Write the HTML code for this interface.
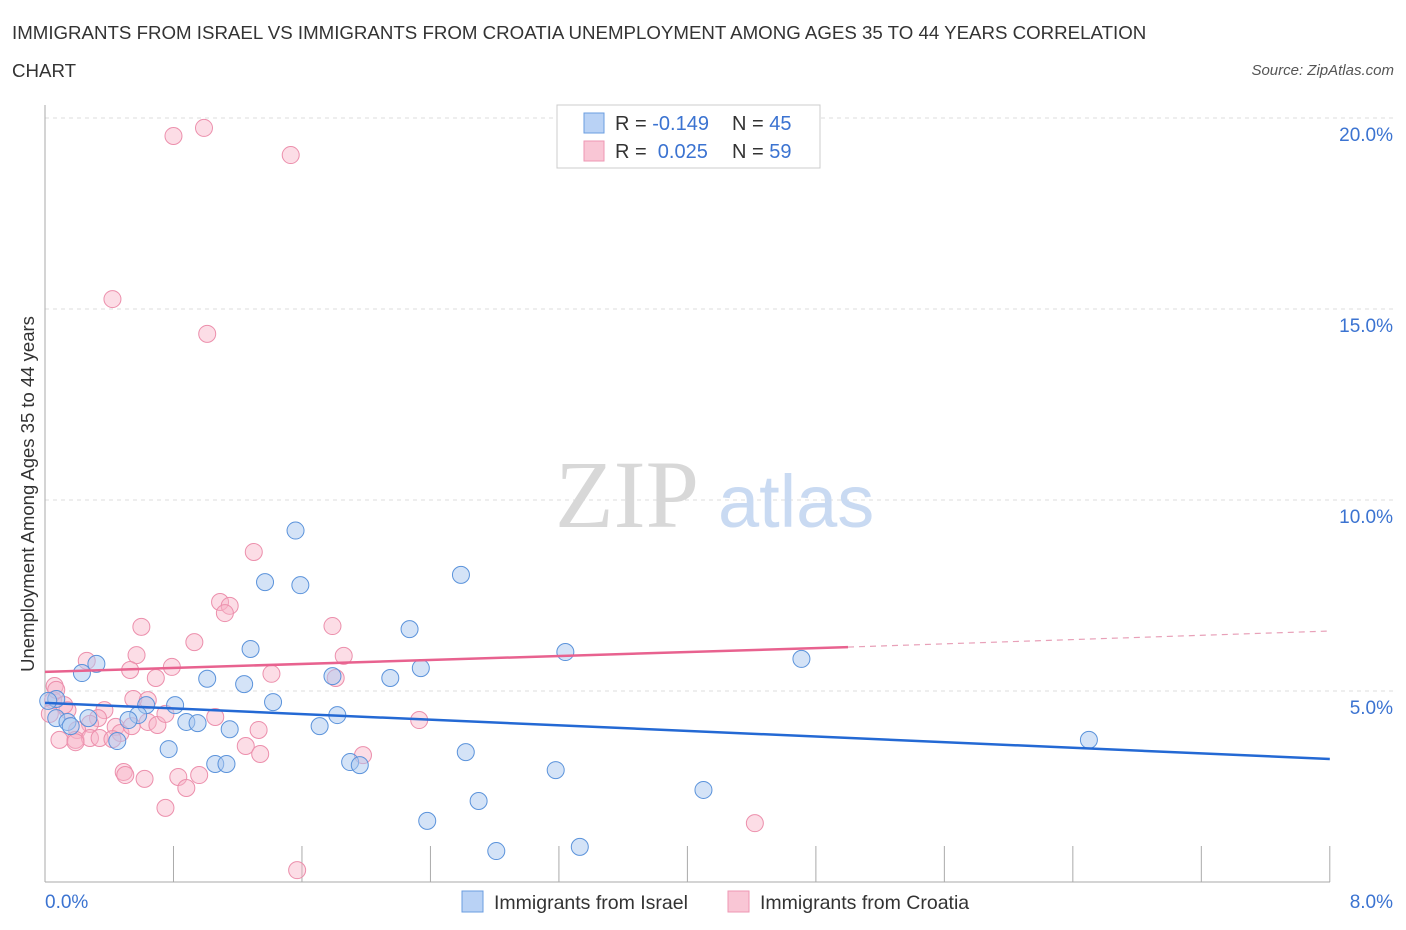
<!DOCTYPE html>
<html><head><meta charset="utf-8"><style>
body{margin:0;background:#fff;font-family:"Liberation Sans",sans-serif;}
#wrap{position:relative;width:1406px;height:930px;overflow:hidden}
.t{position:absolute;color:#333;font-size:18.7px}
</style></head><body>
<div id="wrap">
<div class="t" style="left:12px;top:22px">IMMIGRANTS FROM ISRAEL VS IMMIGRANTS FROM CROATIA UNEMPLOYMENT AMONG AGES 35 TO 44 YEARS CORRELATION</div>
<div class="t" style="left:12px;top:60px">CHART</div>
<div class="t" style="right:12px;top:62px;font-size:15px;font-style:italic;color:#555">Source: ZipAtlas.com</div>
<svg id="svg" width="1406" height="930" style="position:absolute;left:0;top:0"></svg>
</div>
<script>
const blueX=[1.56,1.37,1.59,2.59,2.27,1.28,3.24,4.71,2.34,0.32,0.23,1.01,1.24,2.15,1.79,1.42,0.81,0.63,0.07,0.02,0.58,0.52,0.88,0.95,1.82,1.71,1.15,0.45,0.77,0.07,0.14,0.16,0.27,2.62,1.90,1.96,1.06,1.13,3.18,6.50,4.10,2.70,2.38,2.81,3.33];
const blueY=[9.2,7.85,7.77,8.04,6.62,6.1,6.02,5.84,5.6,5.71,5.47,5.32,5.18,5.34,5.39,4.71,4.63,4.63,4.79,4.74,4.37,4.24,4.19,4.16,4.37,4.08,4.0,3.69,3.48,4.29,4.19,4.08,4.29,3.40,3.14,3.06,3.09,3.09,2.93,3.72,2.41,2.12,1.60,0.81,0.92];
const pinkX=[0.80,0.99,1.53,0.42,1.01,1.30,1.09,1.15,1.12,1.79,0.60,0.93,1.86,0.57,0.26,0.53,0.79,0.69,1.41,1.81,0.06,0.05,0.55,0.64,0.37,2.33,0.64,1.06,0.33,0.14,0.28,0.03,1.33,0.20,0.44,0.09,0.19,0.28,0.34,0.47,0.70,0.75,0.49,0.50,0.62,0.83,0.96,0.88,1.25,1.34,1.98,0.75,4.42,1.57,0.07,0.12,0.19,0.54,0.42];
const pinkY=[19.53,19.74,19.03,15.26,14.35,8.64,7.33,7.23,7.04,6.70,6.68,6.28,5.92,5.94,5.79,5.55,5.63,5.34,5.45,5.34,5.13,4.76,4.79,4.76,4.50,4.24,4.19,4.32,4.29,4.50,4.14,4.40,3.98,3.98,4.06,3.72,3.72,3.77,3.77,3.90,4.11,4.40,2.88,2.80,2.70,2.75,2.80,2.46,3.56,3.35,3.32,1.94,1.54,0.31,5.03,4.63,3.66,4.08,3.74];
const blueLine=[4.69,3.22], pinkLine=[5.50,6.15,6.57];
const xTicks=["0.0%","8.0%"], yTicks=[5,10,15,20];
const NS="http://www.w3.org/2000/svg",svg=document.getElementById('svg');
const X=v=>45+v*160.6, Y=v=>882-v*38.2;
function el(t,a,p){const e=document.createElementNS(NS,t);for(const k in a)e.setAttribute(k,a[k]);(p||svg).appendChild(e);return e;}
yTicks.forEach(v=>{const g=el('line',{x1:45,x2:1395,y1:Y(v),y2:Y(v),stroke:'#ddd','stroke-dasharray':'4,4'});


const t=el('text',{x:1393,y:Y(v)+23,'text-anchor':'end',fill:'#3b73d1','font-size':19,'font-family':'Liberation Sans'});t.textContent=v.toFixed(1)+'%';

});
el('line',{x1:45,x2:45,y1:105,y2:882,stroke:'#aaa'});
el('line',{x1:45,x2:1330,y1:882,y2:882,stroke:'#aaa'});
for(let i=1;i<=10;i++){el('line',{x1:X(i*0.8),x2:X(i*0.8),y1:846,y2:882,stroke:'#aaa'});}
const wm1=el('text',{x:555,y:527,fill:'#d8d8d8','font-size':96,'font-family':'Liberation Serif'});wm1.textContent='ZIP';


const wm2=el('text',{x:718,y:527,fill:'#c9daf2','font-size':74,'font-family':'Liberation Sans'});wm2.textContent='atlas';


pinkX.forEach((x,i)=>{const c=el('circle',{cx:X(x),cy:Y(pinkY[i]),r:8.5,fill:'rgba(248,180,200,0.45)',stroke:'#ec8fac','stroke-width':1});

});
blueX.forEach((x,i)=>{const c=el('circle',{cx:X(x),cy:Y(blueY[i]),r:8.5,fill:'rgba(170,200,240,0.5)',stroke:'#5b93db','stroke-width':1});

});
const bl=el('line',{x1:X(0),y1:Y(blueLine[0]),x2:X(8),y2:Y(blueLine[1]),stroke:'#2469d4','stroke-width':2.5});


const pl=el('line',{x1:X(0),y1:Y(pinkLine[0]),x2:X(5),y2:Y(pinkLine[1]),stroke:'#e8628f','stroke-width':2.5});


const pd=el('line',{x1:X(5),y1:Y(pinkLine[1]),x2:X(8),y2:Y(pinkLine[2]),stroke:'#e8a0b8','stroke-width':1.2,'stroke-dasharray':'6,5'});


const xl=el('text',{x:45,y:908,fill:'#3b73d1','font-size':19,'font-family':'Liberation Sans'});xl.textContent=xTicks[0];


const xr=el('text',{x:1393,y:908,'text-anchor':'end',fill:'#3b73d1','font-size':19,'font-family':'Liberation Sans'});xr.textContent=xTicks[1];


const yt=el('text',{x:34,y:494,transform:'rotate(-90 34 494)','text-anchor':'middle',fill:'#333','font-size':18.5,'font-family':'Liberation Sans'});yt.textContent='Unemployment Among Ages 35 to 44 years';


const lg=el('rect',{x:557,y:105,width:263,height:63,fill:'#fff',stroke:'#ccc'});


[[0,'#b9d2f5','#6a9de0','-0.149','45'],[1,'#f9c6d5','#ee97b3','0.025','59']].forEach(r=>{const y=113+r[0]*28;
el('rect',{x:584,y:y,width:20,height:20,fill:r[1],stroke:r[2]});
const t=el('text',{x:615,y:y+17,'font-size':20,'font-family':'Liberation Sans',fill:'#333'});
t.innerHTML='R = <tspan fill="#3b73d1"> '+(r[0]?'\u00a0':'')+r[3]+'</tspan>   <tspan x="732">N = </tspan><tspan fill="#3b73d1">'+r[4]+'</tspan>';

});
[[462,'#b9d2f5','#6a9de0','Immigrants from Israel'],[728,'#f9c6d5','#ee97b3','Immigrants from Croatia']].forEach(r=>{
const s=el('rect',{x:r[0],y:891,width:21,height:21,fill:r[1],stroke:r[2]});


const t=el('text',{x:r[0]+32,y:909,'font-size':19.5,'font-family':'Liberation Sans',fill:'#333'});t.textContent=r[3];

});
</script>
</body></html>
